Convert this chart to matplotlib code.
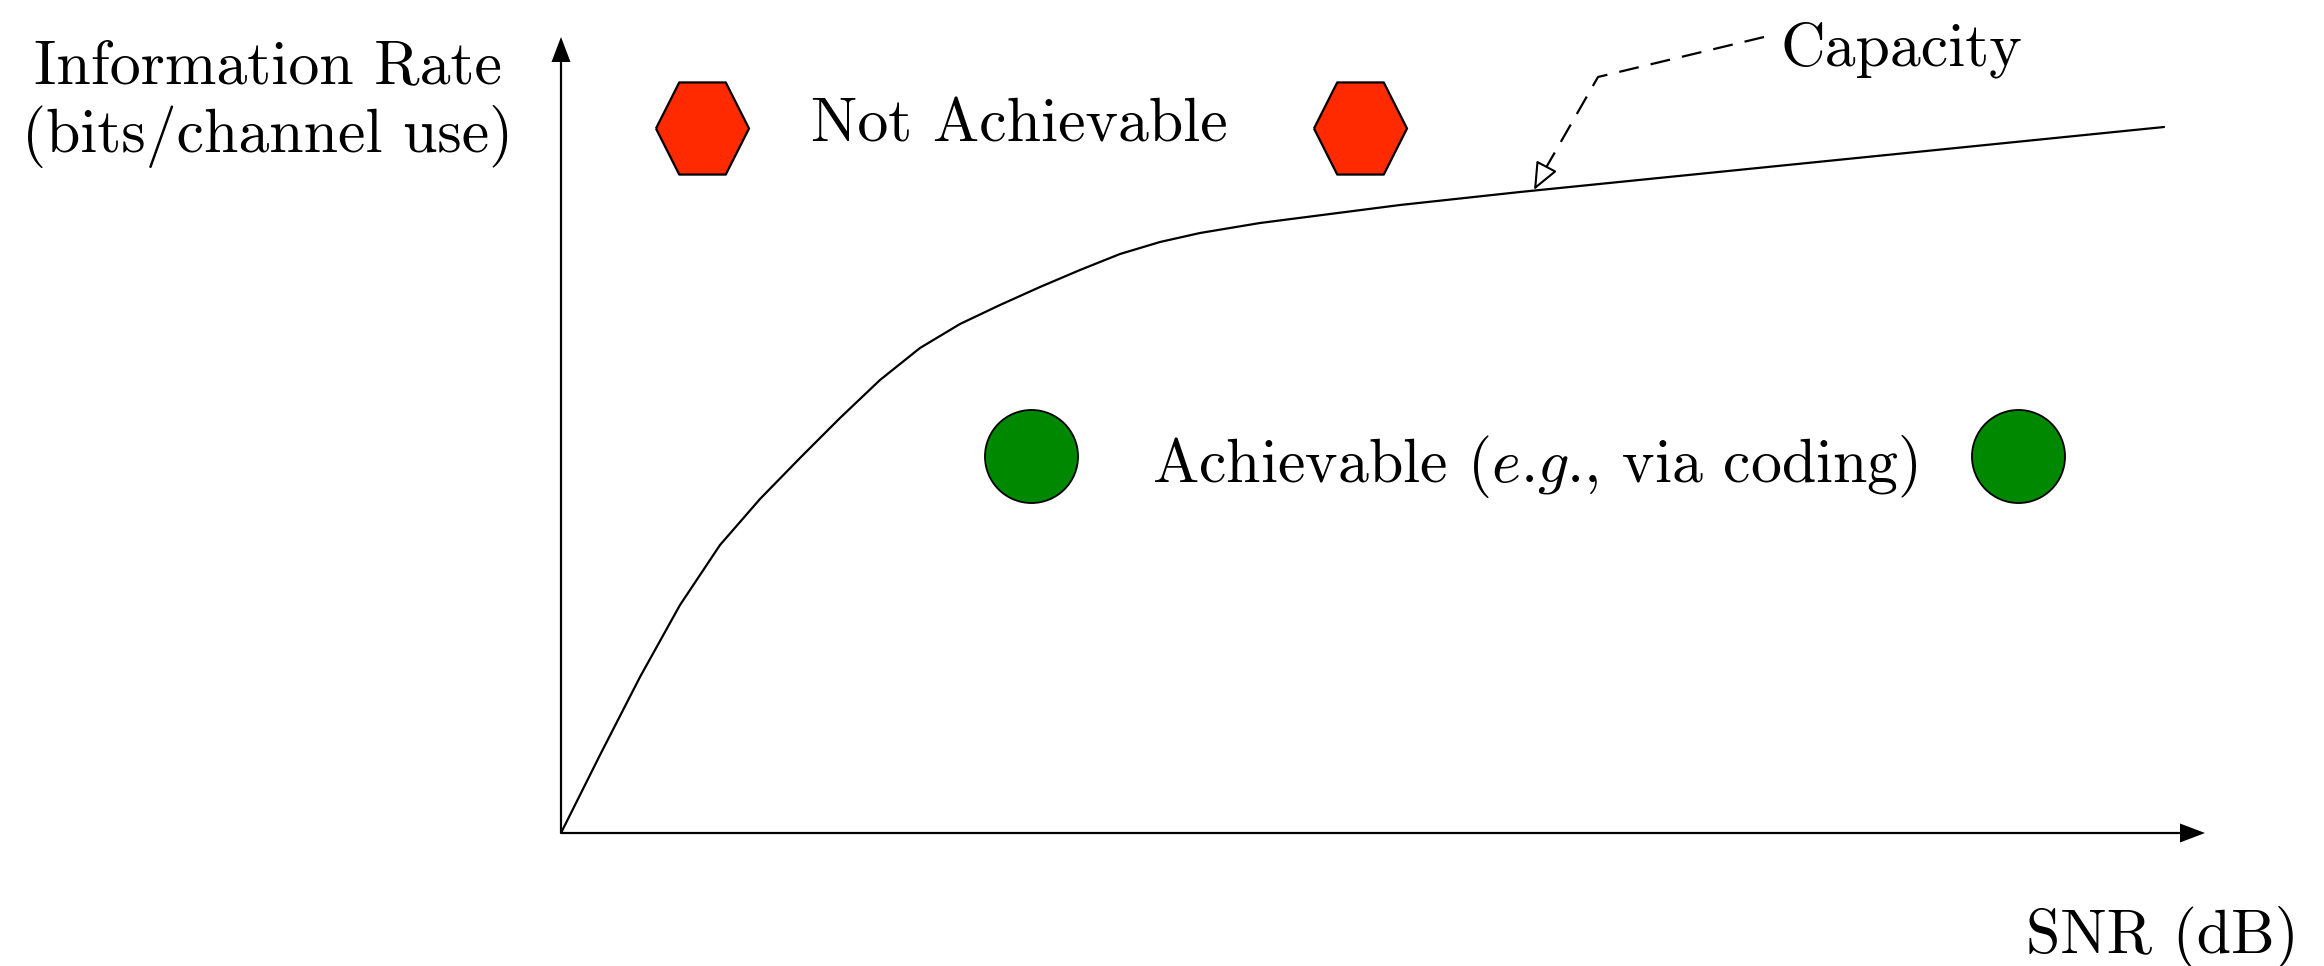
import matplotlib.pyplot as plt

# Capacity curve sketch: information rate vs SNR (arbitrary units, origin at the axes corner)

snr = [0, 39, 79, 119, 159, 199, 239, 279, 319, 359, 399, 439, 479,
       519, 559, 599, 639, 699, 769, 839, 959, 1603]
rate = [0, 78, 156, 228, 288, 334, 375, 415, 453, 485, 509, 528, 546,
        563, 579, 591, 600, 610, 619, 628, 641, 706]

x_axis_len = 1644
y_axis_len = 796

hex_x = [141, 799]
hex_y = [705, 705]
circ_x = [470, 1457]
circ_y = [377, 377]

capacity_path_x = [1203, 1037, 982]
capacity_path_y = [796, 756, 660]
capacity_tip = (973, 643)

plt.rcParams['font.family'] = ['cmr10', 'DejaVu Serif']
plt.rcParams['mathtext.fontset'] = 'cm'
plt.rcParams['axes.unicode_minus'] = False
fs = 44.5

fig = plt.figure(figsize=(23.24, 9.66), dpi=100)
ax = fig.add_axes([0, 0, 1, 1])
ax.set_xlim(-561, 1763)
ax.set_ylim(-133, 833)
ax.axis('off')

# axes with arrow heads
ax.arrow(0, 0, x_axis_len, 0, width=2.2, head_width=19, head_length=25,
         length_includes_head=True, fc='black', ec='none')
ax.arrow(0, 0, 0, y_axis_len, width=2.2, head_width=19, head_length=25,
         length_includes_head=True, fc='black', ec='none')

# capacity curve
ax.plot(snr, rate, color='black', lw=1.6, solid_capstyle='round', solid_joinstyle='round')

# markers
hexagon = [(-1, 0), (-0.5, 0.99), (0.5, 0.99), (1, 0), (0.5, -0.99), (-0.5, -0.99), (-1, 0)]
ax.plot(hex_x, hex_y, ls='none', marker=hexagon, markersize=67, mfc='#ff2a00',
        mec='black', mew=1.6)
ax.plot(circ_x, circ_y, ls='none', marker='o', markersize=67, mfc='#008800',
        mec='black', mew=1.3)

# dashed pointer to the curve
ax.plot(capacity_path_x, capacity_path_y, color='black', lw=1.6,
        ls=(0, (9, 5.5)), solid_joinstyle='round')
ax.annotate('', xy=capacity_tip, xytext=(capacity_path_x[-1], capacity_path_y[-1]),
            arrowprops=dict(arrowstyle='-|>,head_length=0.85,head_width=0.36',
                            mutation_scale=20, fc='white', ec='black', lw=1.5,
                            shrinkA=0, shrinkB=0))

# labels
ax.text(-293, 750, 'Information Rate', fontsize=fs, ha='center', va='baseline')
ax.text(-293, 681, '(bits/channel use)', fontsize=fs, ha='center', va='baseline')
ax.text(1601, -120, 'SNR (dB)', fontsize=fs, ha='center', va='baseline')
ax.text(458, 692, 'Not Achievable', fontsize=fs, ha='center', va='baseline')
ax.text(974, 351,
        r'Achievable ($\mathit{e}.\hspace{-0.2}\mathit{g}.\hspace{-0.2}$, via coding)',
        fontsize=fs, ha='center', va='baseline')
ax.text(1340, 767, 'Capacity', fontsize=fs, ha='center', va='baseline')

plt.savefig('out.png', dpi=100)
